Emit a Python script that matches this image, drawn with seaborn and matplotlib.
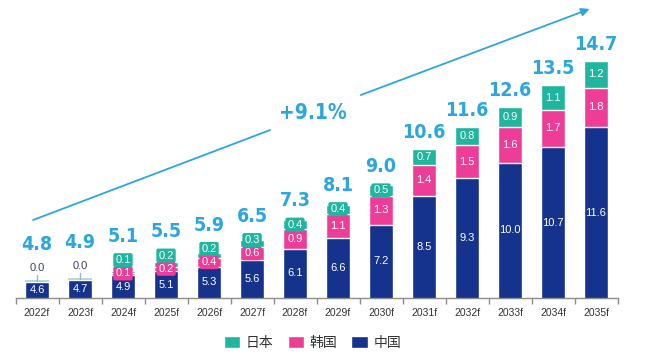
import numpy as np
import pandas as pd
import matplotlib.pyplot as plt
import seaborn as sns
from matplotlib.patches import Patch
from matplotlib import font_manager

# data
years = ["2022f", "2023f", "2024f", "2025f", "2026f", "2027f", "2028f",
         "2029f", "2030f", "2031f", "2032f", "2033f", "2034f", "2035f"]
china = [4.6, 4.7, 4.9, 5.1, 5.3, 5.6, 6.1, 6.6, 7.2, 8.5, 9.3, 10.0, 10.7, 11.6]
korea = [0.0, 0.0, 0.1, 0.2, 0.4, 0.6, 0.9, 1.1, 1.3, 1.4, 1.5, 1.6, 1.7, 1.8]
japan = [0.0, 0.0, 0.1, 0.2, 0.2, 0.3, 0.4, 0.4, 0.5, 0.7, 0.8, 0.9, 1.1, 1.2]
totals = [4.8, 4.9, 5.1, 5.5, 5.9, 6.5, 7.3, 8.1, 9.0, 10.6, 11.6, 12.6, 13.5, 14.7]
cagr = "+9.1%"

TEAL = "#1fb59f"
PINK = "#ee3d96"
NAVY = "#15328c"
BLUE = "#2ba6df"

df = pd.DataFrame({"year": years, "china": china, "korea": korea, "japan": japan})
df["ck"] = df["china"] + df["korea"]
df["all"] = df["ck"] + df["japan"]

sns.set_theme(style="white")
plt.rcParams['font.family'] = ['Liberation Sans', 'Noto Sans CJK SC', 'DejaVu Sans']

# narrow bold font for the big numbers, if one is there
names = {f.name for f in font_manager.fontManager.ttflist}
narrow = "Liberation Sans Narrow" if "Liberation Sans Narrow" in names else "DejaVu Sans"
big_font = dict(family=narrow, fontweight="bold", fontstretch="condensed", color=BLUE)

fig = plt.figure(figsize=(6.49, 3.55), dpi=100)
ax = fig.add_axes([0.0239, 0.1606, 0.9276, 0.8394])

# stacked bars by overdrawing cumulative heights
for col, color in [("all", TEAL), ("ck", PINK), ("china", NAVY)]:
    sns.barplot(data=df, x="year", y=col, color=color, width=0.56,
                edgecolor="white", linewidth=1, saturation=1, ax=ax)

ybot = 3.88
ax.set_ylim(ybot, ybot + 298 / 22.1)
ax.set_xlim(-0.5, 13.5)
ax.set_xlabel("")
ax.set_ylabel("")
ax.set_yticks([])
for s in ["left", "right", "top"]:
    ax.spines[s].set_visible(False)
ax.spines["bottom"].set_color("#8c8c8c")
ax.spines["bottom"].set_linewidth(1)
ax.set_xticks(np.arange(-0.5, 14, 1), minor=True)
ax.tick_params(axis="x", which="major", length=0, labelsize=7.5, labelcolor="#333333", pad=7)
ax.tick_params(axis="x", which="minor", length=4, width=1, color="#8c8c8c", direction="out", bottom=True)

GAP = 0.6
for i in range(len(years)):
    if korea[i] == 0 and japan[i] == 0:
        ax.hlines(china[i] + 0.04, i - 0.27, i + 0.27, color="#9fd6d0", lw=1.2)
        ax.plot([i, i], [china[i] + 0.05, china[i] + 0.3], color="#9fb4c8", lw=1)
        ax.text(i, china[i] + 0.62, "0.0", ha="center", va="center",
                fontsize=8, color="#3a4060")
        ax.text(i, (ybot + china[i]) / 2, f"{china[i]:.1f}", ha="center", va="center",
                fontsize=8, color="white")
        top = china[i] + 0.95
    else:
        segs = [(china[i], ybot, china[i], NAVY),
                (korea[i], china[i], df["ck"][i], PINK),
                (japan[i], df["ck"][i], df["all"][i], TEAL)]
        prev = None
        for val, lo, hi, color in segs:
            y = (lo + hi) / 2
            if prev is not None:
                y = max(y, prev + GAP)
            bbox = None
            if hi - lo < 0.6:
                bbox = dict(boxstyle="round,pad=0.18", fc=color, ec="none")
            ax.text(i, y, f"{val:.1f}", ha="center", va="center",
                    fontsize=8, color="white", bbox=bbox)
            prev = y
        top = max(df["all"][i], prev + 0.32)
    ax.text(i, top + 0.33, f"{totals[i]:.1f}", ha="center", va="bottom",
            fontsize=14, **big_font)

# growth arrow, broken around the label
ax.plot([-0.09, 5.42], [7.41, 11.48], color=BLUE, lw=1.3)
ax.annotate("", xy=(12.91, 17.0), xytext=(7.47, 13.02),
            arrowprops=dict(arrowstyle="-|>", color=BLUE, lw=1.3, mutation_scale=12))
ax.text(6.42, 12.25, cagr, ha="center", va="center", fontsize=15, **big_font)

handles = [Patch(facecolor=TEAL), Patch(facecolor=PINK), Patch(facecolor=NAVY)]
fig.legend(handles, ["日本", "韩国", "中国"], loc="center", bbox_to_anchor=(0.4815, 0.034),
           ncol=3, frameon=False, fontsize=10, handlelength=1.2, handleheight=1.0,
           columnspacing=1.0, handletextpad=0.4, labelcolor="#333333")

fig.savefig("out.png", dpi=100)
